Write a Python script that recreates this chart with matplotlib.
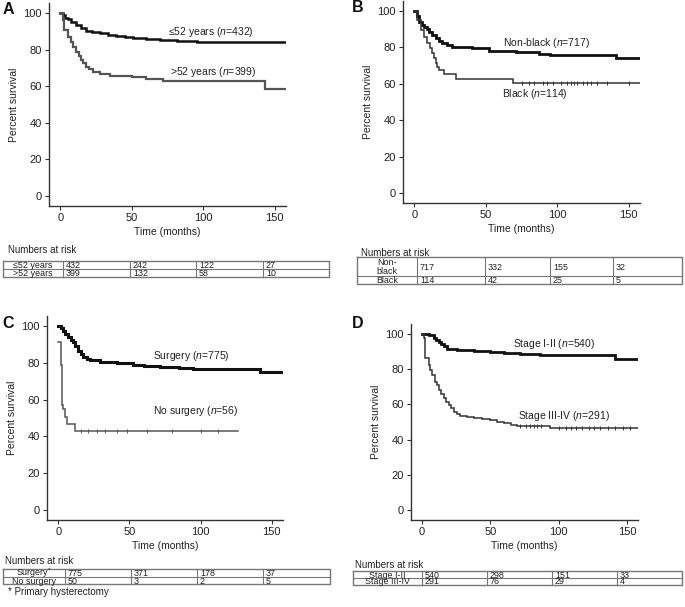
import matplotlib
matplotlib.use("Agg")
import numpy as np
import matplotlib.pyplot as plt

plt.rcParams['font.family'] = ['Liberation Sans', 'DejaVu Sans']
plt.rcParams['mathtext.fontset'] = 'custom'
plt.rcParams['mathtext.rm'] = 'Liberation Sans'
plt.rcParams['mathtext.it'] = 'Liberation Sans:italic'

# ---- survival curves (time in months, percent survival), step-post ----
A_le52_t = [0, 1.6, 3, 5, 7.5, 11, 14.5, 18, 22, 27.5, 33, 39, 45, 51, 60, 70, 82, 95.5, 158]
A_le52_s = [100, 99, 97.5, 96.5, 95, 93.4, 92, 90.3, 89.5, 88.9, 88.2, 87.6, 87, 86.5, 85.8, 85.2, 84.6, 84, 84]
A_gt52_t = [0, 1.6, 2.8, 5, 7.5, 9, 11, 13, 14.5, 16, 18, 20, 22.8, 27.5, 35, 50, 60, 72, 143.5, 158]
A_gt52_s = [100, 96, 90.7, 87, 84, 81.5, 78.9, 76.5, 74.3, 72.5, 70.7, 69.2, 67.9, 66.7, 65.8, 64.9, 64, 63.1, 58.3, 58.3]

B_nb_t = [0, 1.5, 3.3, 5, 6.8, 8.5, 10.3, 12.5, 15, 17, 19.6, 23, 26.6, 33, 40.6, 52, 60, 71, 87, 95, 141, 158]
B_nb_s = [100, 97, 94.1, 92.5, 91.4, 90, 88.6, 86.8, 85, 83.5, 82.2, 81.2, 80.4, 80, 79.5, 78.2, 77.8, 77.3, 76.4, 76, 74, 74]
B_bl_t = [0, 2.1, 4.4, 6.8, 9.1, 11, 12.6, 14, 15, 16, 17.3, 20.8, 29, 68.7, 158]
B_bl_s = [100, 95, 89.6, 85.9, 82.2, 79.5, 76.7, 74, 71.2, 69.5, 67.6, 65.4, 62.6, 60.6, 60.6]
B_bl_cens = [75, 80, 84, 90, 93, 97, 103, 107, 110, 112, 114, 118, 121, 124, 128, 135, 150]

C_su_t = [0, 2, 3.5, 5, 7, 9, 10.6, 12, 14, 16, 17.6, 20, 22.3, 29.3, 41, 52.8, 60, 71.6, 85, 95, 142, 158]
C_su_s = [100, 98.8, 97.5, 95.8, 93.9, 92.5, 91.2, 89, 86.7, 84.8, 83, 82.2, 81.6, 80.7, 79.8, 79, 78.5, 77.7, 77.2, 76.8, 75, 75]
C_ns_t = [0, 1.5, 2.5, 3.5, 4.7, 5.9, 11.7, 126]
C_ns_s = [91.2, 78.6, 56.9, 55, 50.6, 46.5, 42.9, 42.9]
C_ns_cens = [16, 21, 27, 33, 41, 48, 62, 80, 100, 112]

D_12_t = [0, 4.9, 8.5, 10.5, 12.2, 14, 15.9, 18.3, 25.6, 37.8, 50, 60, 72, 86.6, 141.5, 158]
D_12_s = [100, 99.4, 97.5, 96.5, 95.3, 94, 92.8, 91.3, 90.9, 90.3, 89.6, 89.2, 88.6, 88.1, 85.8, 85.8]
D_34_t = [0, 1.2, 2.4, 4.9, 6, 7.3, 9.8, 11, 12.2, 14, 15.9, 17.5, 19.5, 21.5, 23.2, 25.5, 28, 33, 37.8, 44, 50, 55, 59.8, 65, 69.5, 94, 158]
D_34_s = [100, 97.5, 86.2, 82.4, 79.5, 76.7, 72.9, 71, 68.2, 66, 63.4, 61.5, 59.7, 57.8, 55.9, 54.5, 53.4, 52.6, 52.1, 51.6, 51.1, 50.2, 49.2, 48.5, 47.9, 46.4, 46.4]
D_34_cens = [72, 76, 79, 82, 84, 87, 100, 105, 109, 113, 117, 122, 126, 130, 136, 141, 147, 152]

# ---- numbers at risk ----
A_rows = ["\u226452 years", ">52 years"]
A_risk = [[432, 242, 122, 27], [399, 132, 58, 10]]
B_rows = ["Non-\nblack", "Black"]
B_risk = [[717, 332, 155, 32], [114, 42, 25, 5]]
C_rows = ["Surgery$^{*}$", "No surgery"]
C_risk = [[775, 371, 178, 37], [50, 3, 2, 5]]
D_rows = ["Stage I-II", "Stage III-IV"]
D_risk = [[540, 298, 151, 33], [291, 76, 29, 4]]

W, H = 685, 607
fig = plt.figure(figsize=(W / 100, H / 100), dpi=100)
TXT = '#222222'


def make_ax(left, right, top, bottom):
    ax = fig.add_axes([left / W, 1 - bottom / H, (right - left) / W, (bottom - top) / H])
    ax.set_xlim(-8, 158)
    ax.set_ylim(-5.5, 105.5)
    for s in ('top', 'right'):
        ax.spines[s].set_visible(False)
    for s in ('left', 'bottom'):
        ax.spines[s].set_color('#333333')
        ax.spines[s].set_linewidth(1.0)
    ax.set_xticks([0, 50, 100, 150])
    ax.set_yticks([0, 20, 40, 60, 80, 100])
    ax.tick_params(labelsize=8, length=3, width=0.8, color='#333333', labelcolor=TXT, pad=2)
    ax.set_xlabel('Time (months)', fontsize=7.5, color=TXT, labelpad=3)
    ax.set_ylabel('Percent survival', fontsize=7.5, color=TXT, labelpad=3)
    return ax


def curve(ax, t, s, color, lw, cens=None):
    ax.plot(t, s, drawstyle='steps-post', color=color, lw=lw, solid_joinstyle='miter')
    if cens:
        tt = np.array(t)
        ss = np.array(s)
        ys = [ss[np.searchsorted(tt, c, side='right') - 1] for c in cens]
        ax.plot(cens, ys, ls='none', marker='|', ms=3, mew=0.7, color=color)


def label(ax, x, y, name, n):
    ax.text(x, y, name + ' ($\\it{n}$=' + str(n) + ')', ha='center', va='center',
            fontsize=7.5, color=TXT)


# Panel A
axA = make_ax(49, 286, 3, 206)
curve(axA, A_le52_t, A_le52_s, '#111111', 1.8)
curve(axA, A_gt52_t, A_gt52_s, '#555555', 1.6)
label(axA, 105.6, 89.6, '\u226452 years', 432)
label(axA, 106.7, 67.6, '>52 years', 399)

# Panel B
axB = make_ax(403, 640, 1, 203)
curve(axB, B_nb_t, B_nb_s, '#111111', 2.0)
curve(axB, B_bl_t, B_bl_s, '#333333', 1.1, B_bl_cens)
label(axB, 92.5, 82.2, 'Non-black', 717)
label(axB, 84.5, 54.2, 'Black', 114)

# Panel C
axC = make_ax(47, 283, 316, 520)
curve(axC, C_su_t, C_su_s, '#111111', 2.2)
curve(axC, C_ns_t, C_ns_s, '#555555', 1.1, C_ns_cens)
label(axC, 93.4, 84, 'Surgery', 775)
label(axC, 96.7, 53.7, 'No surgery', 56)

# Panel D
axD = make_ax(411, 638, 324, 520)
curve(axD, D_12_t, D_12_s, '#111111', 2.0)
curve(axD, D_34_t, D_34_s, '#333333', 1.1, D_34_cens)
label(axD, 96.4, 94.3, 'Stage I-II', 540)
label(axD, 103.9, 53.4, 'Stage III-IV', 291)

# overlay in pixel coordinates for letters and risk tables
ov = fig.add_axes([0, 0, 1, 1], zorder=-1)
ov.set_xlim(0, W)
ov.set_ylim(H, 0)
ov.axis('off')

for letter, x, y in [('A', 8, 9), ('B', 358, 8), ('C', 8, 323), ('D', 358, 323)]:
    ov.text(x, y, letter, fontsize=11.5, fontweight='bold', ha='center', va='center', color='#111111')


def risk_table(x0, ytitle, cols, rows_y, rows, risk):
    ov.text(x0, ytitle, 'Numbers at risk', fontsize=7, color=TXT, ha='left', va='center')
    top, bot = rows_y[0], rows_y[-1]
    lc = '#777777'
    ov.plot([cols[0], cols[-1], cols[-1], cols[0], cols[0]], [top, top, bot, bot, top], color=lc, lw=1.0)
    for y in rows_y[1:-1]:
        ov.plot([cols[0], cols[-1]], [y, y], color=lc, lw=0.8)
    for x in cols[1:-1]:
        ov.plot([x, x], [top, bot], color=lc, lw=0.8)
    for i, name in enumerate(rows):
        yc = (rows_y[i] + rows_y[i + 1]) / 2 + 0.5
        ov.text((cols[0] + cols[1]) / 2, yc, name, fontsize=6.4, color=TXT, ha='center', va='center',
                linespacing=0.9)
        for j, v in enumerate(risk[i]):
            ov.text(cols[j + 1] + 3, yc, str(v), fontsize=6.4, color=TXT, ha='left', va='center')


risk_table(8, 250, [3, 63, 130, 196, 263, 329], [261, 269, 277], A_rows, A_risk)
risk_table(361, 253, [357, 417, 485, 550, 613, 682], [257, 276, 283.5], B_rows, B_risk)
risk_table(5, 561, [3, 65, 131, 197, 263, 330], [569, 577, 584], C_rows, C_risk)
risk_table(355, 565, [353, 422, 487, 552, 617, 682], [571, 578, 585], D_rows, D_risk)

ov.text(8, 592, '* Primary hysterectomy', fontsize=7, color=TXT, ha='left', va='center')

fig.savefig('out.png', dpi=100)
